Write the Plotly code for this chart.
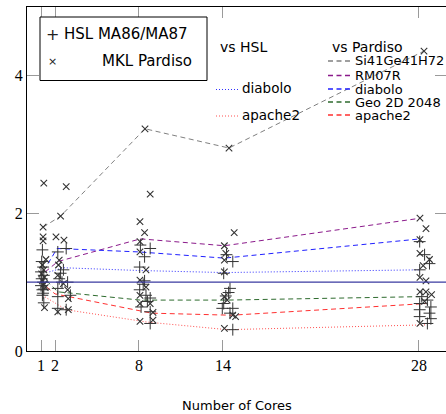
import plotly.graph_objects as go

# ---------------- data ----------------
core_ticks = [1, 2, 8, 14, 28]
core_labels = ["1", "2", "8", "14", "28"]
y_ticks = [0, 2, 4]

# HSL MA86/MA87 (+ markers), x = core count as placed in the picture
hsl_x = [1.1, 1.15, 1.0, 1.2, 1.05, 1.15, 1.0, 1.1, 1.15, 1.1, 1.2, 1.05, 1.2,
         2.8, 2.2, 2.6, 2.4, 2.9, 2.2, 3.1, 2.2, 2.2, 2.8, 2.5, 2.3,
         8.1, 8.8, 8.4, 8.05, 8.3, 8.05, 8.5, 8.8, 8.15, 8.8, 8.8, 8.4, 8.6,
         14.25, 14.7, 14.05, 14.5, 14.05, 13.95, 14.7, 14.5, 14.7, 14.2, 14.4,
         28.05, 28.4, 28.75, 28.05, 28.2, 28.6, 28.05, 28.85, 28.05, 28.75, 28.05, 28.85, 28.6]
hsl_y = [1.47, 1.22, 1.15, 1.10, 1.05, 1.0, 0.95, 0.89, 0.84, 0.81, 0.70, 1.30, 0.90,
         1.49, 1.44, 1.18, 1.13, 1.0, 0.91, 0.81, 0.79, 0.62, 0.60, 1.0, 1.05,
         1.54, 1.49, 1.37, 1.22, 0.97, 0.89, 0.81, 0.77, 0.64, 0.57, 0.40, 1.02, 0.72,
         1.40, 1.30, 1.13, 0.91, 0.69, 0.62, 0.62, 0.55, 0.31, 0.80, 0.85,
         1.59, 1.40, 1.27, 1.18, 0.79, 0.74, 0.69, 0.64, 0.60, 0.55, 0.50, 0.47, 0.40]

# MKL Pardiso (x markers)
pard_x = [1.2, 1.15, 1.15, 1.15, 1.35, 1.1, 1.2, 1.05, 1.25, 1.1, 1.2, 1.25, 1.3,
          2.8, 2.4, 2.07, 2.64, 2.3, 2.25, 2.6, 2.9, 2.2, 2.95, 2.95, 2.2,
          8.8, 8.07, 8.4, 8.07, 8.07, 8.5, 8.07, 8.5, 8.07, 8.07, 8.8, 9.0, 8.07, 9.0, 8.43,
          14.43, 14.8, 14.1, 14.2, 14.1, 14.1, 14.1, 14.3, 14.7, 14.9, 14.1,
          28.36, 28.07, 28.5, 28.07, 28.07, 28.75, 28.3, 28.07, 28.5, 28.07, 28.5, 28.4, 28.07, 28.9]
pard_y = [2.44, 1.80, 1.66, 1.60, 1.33, 1.25, 1.18, 1.12, 1.07, 1.02, 0.97, 0.63, 0.92,
          2.39, 1.96, 1.66, 1.61, 1.32, 1.25, 0.98, 0.89, 0.57, 0.60, 0.76, 1.10,
          2.28, 1.88, 1.72, 1.59, 1.44, 1.18, 1.03, 0.93, 0.81, 0.69, 0.69, 0.56, 0.43, 0.45, 3.23,
          2.95, 1.72, 1.53, 1.42, 1.32, 1.15, 0.79, 0.74, 0.52, 0.50, 0.33,
          4.36, 1.93, 1.78, 1.62, 1.42, 1.33, 1.24, 1.07, 1.02, 0.86, 0.86, 0.72, 0.40, 0.82]

# vs Pardiso (dashed)
si_x = [1.15, 2.4, 8.43, 14.43, 28.36]
si_y = [1.80, 1.96, 3.23, 2.95, 4.36]
rm_x = [1.3, 2.2, 8.1, 14.1, 28.1]
rm_y = [1.15, 1.30, 1.63, 1.53, 1.93]
diab_p_x = [1.5, 2.15, 8.0, 14.1, 28.1]
diab_p_y = [1.27, 1.49, 1.44, 1.35, 1.63]
geo_x = [1.4, 2.2, 8.1, 14.3, 28.1]
geo_y = [1.02, 0.86, 0.74, 0.74, 0.79]
apa_p_x = [1.4, 2.0, 8.9, 14.6, 28.5]
apa_p_y = [0.93, 0.83, 0.55, 0.52, 0.69]
# vs HSL (dotted)
diab_h_x = [1.6, 2.6, 8.0, 14.1, 28.1]
diab_h_y = [1.15, 1.21, 1.17, 1.14, 1.18]
apa_h_x = [1.1, 2.8, 8.6, 14.3, 28.5]
apa_h_y = [0.81, 0.60, 0.42, 0.31, 0.38]

ref_x = [0, 30]
ref_y = [1, 1]

# ---------------- figure ----------------
W, H = 446, 414
ML, MR, MT, MB = 27, 0, 7, 63
PW, PH = W - ML - MR, H - MT - MB

def px(x):
    return (x - ML) / PW

def py(y):
    return (H - MB - y) / PH

fig = go.Figure()

DASH = "5px,3.5px"
DOT = "1px,2px"
lines = [
    (si_x, si_y, "#808080", DASH),
    (rm_x, rm_y, "#8b1a8b", DASH),
    (diab_p_x, diab_p_y, "#2020ff", DASH),
    (geo_x, geo_y, "#2e6b2e", DASH),
    (apa_p_x, apa_p_y, "#ff3030", DASH),
    (diab_h_x, diab_h_y, "#3030ff", DOT),
    (apa_h_x, apa_h_y, "#ff5050", DOT),
]
for lx, ly, c, d in lines:
    fig.add_trace(go.Scatter(x=lx, y=ly, mode="lines",
                             line=dict(color=c, width=1, dash=d),
                             showlegend=False, hoverinfo="skip"))

fig.add_trace(go.Scatter(x=hsl_x, y=hsl_y, mode="markers", showlegend=False,
                         marker=dict(symbol="cross-thin", size=8.5,
                                     line=dict(color="#333333", width=1))))
fig.add_trace(go.Scatter(x=pard_x, y=pard_y, mode="markers", showlegend=False,
                         marker=dict(symbol="x-thin", size=6.5,
                                     line=dict(color="#333333", width=1.1))))

fig.add_trace(go.Scatter(x=ref_x, y=ref_y, mode="lines", yaxis="y2",
                         line=dict(color="#3a3aa0", width=1.2),
                         showlegend=False, hoverinfo="skip"))

serif = dict(family="Liberation Serif", size=16, color="black")
sans = "DejaVu Sans"

fig.update_layout(
    width=W, height=H,
    margin=dict(l=ML, r=MR, t=MT, b=MB),
    paper_bgcolor="white", plot_bgcolor="white",
    xaxis=dict(range=[0, 29.93], tickvals=core_ticks, ticktext=core_labels,
               ticks="inside", ticklen=11, tickcolor="#9a9a9a", tickwidth=1,
               showline=True, linecolor="black", linewidth=1, mirror="ticks",
               showgrid=False, zeroline=False, tickfont=serif),
    yaxis=dict(range=[0, 5.0], tickvals=y_ticks, ticks="inside", ticklen=12,
               tickcolor="#9a9a9a", tickwidth=1,
               showline=True, linecolor="black", linewidth=1, mirror=False,
               showgrid=False, zeroline=False, tickfont=serif),
    yaxis2=dict(range=[0, 5.0], overlaying="y", side="right", tickvals=y_ticks,
                ticks="inside", ticklen=11, tickcolor="#9a9a9a", tickwidth=1,
                showticklabels=False, showline=False, showgrid=False, zeroline=False),
)

# axis title
fig.add_annotation(text="Number of Cores", xref="paper", yref="paper",
                   x=px(237), y=py(405.5), xanchor="center", yanchor="middle",
                   showarrow=False, font=dict(family=sans, size=13, color="black"))

# legend box 1
fig.add_shape(type="rect", xref="paper", yref="paper",
              x0=px(40), x1=px(207), y0=py(80.5), y1=py(17),
              line=dict(color="black", width=1), fillcolor="white", layer="above")
fig.add_annotation(text="+", xref="paper", yref="paper", x=px(52), y=py(34),
                   xanchor="center", yanchor="middle", showarrow=False,
                   font=dict(family=sans, size=16, color="#222"))
fig.add_annotation(text="HSL MA86/MA87", xref="paper", yref="paper", x=px(62), y=py(34),
                   xanchor="left", yanchor="middle", showarrow=False,
                   font=dict(family=sans, size=15, color="black"))
fig.add_annotation(text="×", xref="paper", yref="paper", x=px(52), y=py(62),
                   xanchor="center", yanchor="middle", showarrow=False,
                   font=dict(family=sans, size=11, color="#222"))
fig.add_annotation(text="MKL Pardiso", xref="paper", yref="paper", x=px(194), y=py(61),
                   xanchor="right", yanchor="middle", showarrow=False,
                   font=dict(family=sans, size=15, color="black"))

# legend 2 (vs HSL / vs Pardiso)
fig.add_annotation(text="vs HSL", xref="paper", yref="paper", x=px(218), y=py(47),
                   xanchor="left", yanchor="middle", showarrow=False,
                   font=dict(family=sans, size=14, color="black"))
fig.add_annotation(text="vs Pardiso", xref="paper", yref="paper", x=px(330), y=py(47),
                   xanchor="left", yanchor="middle", showarrow=False,
                   font=dict(family=sans, size=14, color="black"))

left_entries = [("diabolo", "#3030ff", 89.5), ("apache2", "#ff5050", 116)]
for name, c, yy in left_entries:
    fig.add_shape(type="line", xref="paper", yref="paper",
                  x0=px(216), x1=px(238), y0=py(yy), y1=py(yy),
                  line=dict(color=c, width=1, dash=DOT), layer="above")
    fig.add_annotation(text=name, xref="paper", yref="paper", x=px(240), y=py(yy - 1),
                       xanchor="left", yanchor="middle", showarrow=False,
                       font=dict(family=sans, size=13.5, color="black"))

right_entries = [("Si41Ge41H72", "#808080", 61), ("RM07R", "#8b1a8b", 75.5),
                 ("diabolo", "#2020ff", 89), ("Geo 2D 2048", "#2e6b2e", 102),
                 ("apache2", "#ff3030", 115)]
for name, c, yy in right_entries:
    fig.add_shape(type="line", xref="paper", yref="paper",
                  x0=px(328), x1=px(351), y0=py(yy), y1=py(yy),
                  line=dict(color=c, width=1.3, dash=DASH), layer="above")
    fig.add_annotation(text=name, xref="paper", yref="paper", x=px(353), y=py(yy),
                       xanchor="left", yanchor="middle", showarrow=False,
                       font=dict(family=sans, size=13, color="black"))

fig.write_html("out.html")
